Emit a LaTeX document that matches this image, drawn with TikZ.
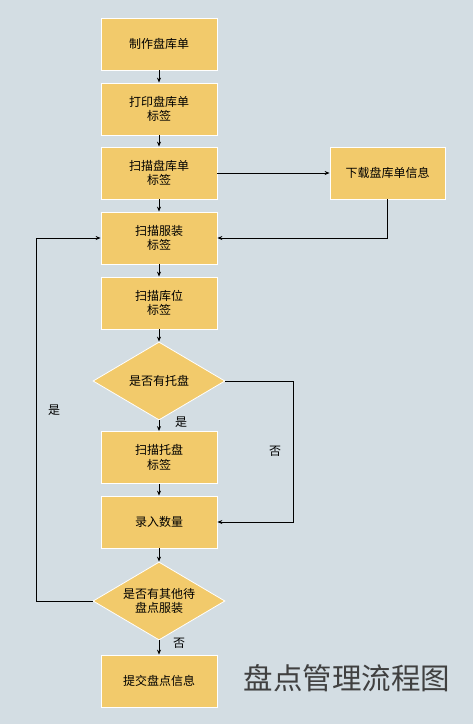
\documentclass[tikz,border=0pt]{standalone}
\usepackage{fontspec}
\setmainfont{Noto Sans CJK SC}
\usetikzlibrary{shapes.geometric,arrows.meta}
\definecolor{bgblue}{HTML}{D3DDE3}
\definecolor{boxyellow}{HTML}{F2CA6B}
\begin{document}
\begin{tikzpicture}[x=1pt,y=-1pt,>={Stealth[length=5pt,width=4pt]},
  box/.style={rectangle,draw=white,line width=0.8pt,fill=boxyellow,
    minimum width=116pt,minimum height=52pt,align=center,
    font=\fontsize{12}{14.5}\selectfont},
  decision/.style={diamond,aspect=1.7,draw=white,line width=0.8pt,fill=boxyellow,
    minimum width=132pt,minimum height=78pt,inner sep=0pt,align=center,
    font=\fontsize{12}{14.5}\selectfont},
  line/.style={draw,line width=0.8pt},
  lbl/.style={font=\fontsize{12}{14}\selectfont}]
  % 背景
  \fill[bgblue] (0,0) rectangle (473,724);

  % 主流程
  \node[box] (make)   at (159,44)  {制作盘库单};
  \node[box] (print)  at (159,109) {打印盘库单\\标签};
  \node[box] (scanlist) at (159,173) {扫描盘库单\\标签};
  \node[box] (scancloth) at (159,238) {扫描服装\\标签};
  \node[box] (scanloc) at (159,303) {扫描库位\\标签};
  \node[decision] (hastray) at (159,381) {是否有托盘};
  \node[box] (scantray) at (159,457.5) {扫描托盘\\标签};
  \node[box] (count)  at (159,522) {录入数量};
  \node[decision] (more) at (159,601) {是否有其他待\\盘点服装};
  \node[box] (submit) at (159,681) {提交盘点信息};

  % 右侧
  \node[box,minimum width=115pt] (download) at (387.5,173) {下载盘库单信息};

  % 连线
  \draw[line,->] (make) -- (print);
  \draw[line,->] (print) -- (scanlist);
  \draw[line,->] (scanlist) -- (scancloth);
  \draw[line,->] (scancloth) -- (scanloc);
  \draw[line,->] (scanloc) -- (hastray);
  \draw[line,->] (hastray) -- (scantray);
  \draw[line,->] (scantray) -- (count);
  \draw[line,->] (count) -- (more);
  \draw[line,->] (more) -- (submit);

  \draw[line,->] (scanlist) -- (download);
  \draw[line,->] (download.south) |- (scancloth.east);
  \draw[line,->] (hastray.east) -- ++(68,0) coordinate (nocorner) |- (count.east);
  \draw[line,->] (more.west) -- ++(-56,0) coordinate (yescorner) |- (scancloth.west);

  % 标注
  \node[lbl] (yes1) at (181,422) {是};
  \node[lbl] (no1)  at (275,451) {否};
  \node[lbl] (yes2) at (54,410)  {是};
  \node[lbl] (no2)  at (179,643) {否};

  % 标题
  \node[font=\fontsize{29.5}{31}\selectfont,text=black!75] (title) at (347,678) {盘点管理流程图};
\end{tikzpicture}
\end{document}
